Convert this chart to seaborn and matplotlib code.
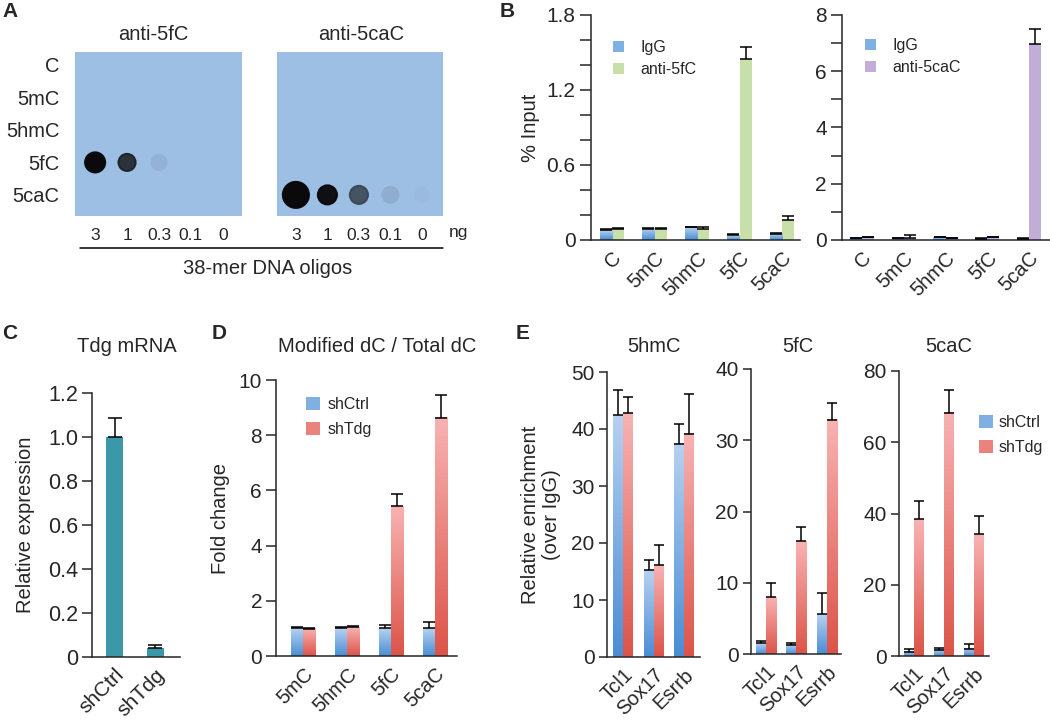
import numpy as np
import pandas as pd
import matplotlib
matplotlib.use("Agg")
import matplotlib.pyplot as plt
import matplotlib.colors as mcolors
from matplotlib.lines import Line2D
from matplotlib.patches import Patch
from matplotlib.ticker import MultipleLocator, FuncFormatter
import seaborn as sns

sns.set_style("ticks")
plt.rcParams["font.family"] = ["Liberation Sans", "DejaVu Sans"]
plt.rcParams["axes.linewidth"] = 1.1

# ---- A: dot blot (signal 0..1 and spot diameter in px, per dose) ----
blot_rows = ["C", "5mC", "5hmC", "5fC", "5caC"]
blot_doses = ["3", "1", "0.3", "0.1", "0"]
fc_blot_row = 3
fc_blot_signal = [1.0, 0.78, 0.07, 0.0, 0.0]
fc_blot_spot = [20, 17, 17, 0, 0]
cac_blot_row = 4
cac_blot_signal = [1.0, 0.97, 0.6, 0.1, 0.03]
cac_blot_spot = [26, 19, 18, 18, 16]

# ---- B: ChIP % input ----
b_sites = ["C", "5mC", "5hmC", "5fC", "5caC"]
igg_fc = [0.08, 0.09, 0.10, 0.04, 0.05]
igg_fc_err = [0.008, 0.004, 0.006, 0.006, 0.006]
anti_fc = [0.09, 0.09, 0.09, 1.45, 0.16]
anti_fc_err = [0.004, 0.004, 0.012, 0.09, 0.03]
igg_cac = [0.07, 0.06, 0.10, 0.05, 0.05]
igg_cac_err = [0.01, 0.01, 0.01, 0.01, 0.01]
anti_cac = [0.09, 0.07, 0.06, 0.09, 6.97]
anti_cac_err = [0.02, 0.11, 0.01, 0.03, 0.52]

# ---- C: Tdg mRNA ----
c_samples = ["shCtrl", "shTdg"]
tdg_expr = [1.0, 0.042]
tdg_expr_err = [0.085, 0.012]

# ---- D: modified dC / total dC ----
d_mods = ["5mC", "5hmC", "5fC", "5caC"]
d_ctrl = [1.0, 1.0, 1.0, 1.0]
d_ctrl_err = [0.05, 0.05, 0.14, 0.22]
d_tdg = [0.98, 1.05, 5.43, 8.64]
d_tdg_err = [0.05, 0.05, 0.43, 0.80]

# ---- E: relative enrichment ----
e_genes = ["Tcl1", "Sox17", "Esrrb"]
e_hmc_ctrl = [42.4, 15.2, 37.4]
e_hmc_ctrl_err = [4.5, 1.8, 3.4]
e_hmc_tdg = [42.8, 16.1, 39.2]
e_hmc_tdg_err = [2.9, 3.5, 6.9]
e_fc_ctrl = [1.5, 1.3, 5.6]
e_fc_ctrl_err = [0.3, 0.2, 2.9]
e_fc_tdg = [8.0, 15.8, 32.9]
e_fc_tdg_err = [1.9, 2.0, 2.3]
e_cac_ctrl = [1.2, 1.7, 2.1]
e_cac_ctrl_err = [0.7, 0.6, 1.4]
e_cac_tdg = [38.4, 68.3, 34.2]
e_cac_tdg_err = [5.1, 6.3, 5.1]

BLUE = ("#b6d1f0", "#4a8dd5")
RED = ("#f8b2b2", "#dc5449")
GREEN = "#c8dfa9"
PURPLE = "#c0aed7"
TEAL = "#3a98a8"
BLOT_BG = np.array([158, 191, 228]) / 255.0

TICK_FS = 15
LABEL_FS = 14.5
LEG_FS = 11.5

W, H = 1050, 722
fig = plt.figure(figsize=(W / 100, H / 100), dpi=100)


def px_axes(x0, y0, x1, y1):
    return fig.add_axes([x0 / W, 1 - y1 / H, (x1 - x0) / W, (y1 - y0) / H])


def fig_text(x, y, s, **kw):
    fig.text(x / W, 1 - y / H, s, **kw)


def gradient_fill(ax, container, colors):
    top, bottom = colors
    cmap = mcolors.LinearSegmentedColormap.from_list("g", [bottom, top])
    grad = np.linspace(0, 1, 64).reshape(-1, 1)
    for bar in container:
        x, y = bar.get_x(), bar.get_y()
        w, h = bar.get_width(), bar.get_height()
        ax.imshow(grad, cmap=cmap, origin="lower", aspect="auto",
                  extent=(x, x + w, y, y + h), zorder=bar.get_zorder() + 0.1)


def add_errors(ax, container, err, capsize):
    xs = [b.get_x() + b.get_width() / 2 for b in container]
    ys = [b.get_height() for b in container]
    ax.errorbar(xs, ys, yerr=[np.zeros(len(err)), err], fmt="none", ecolor="black",
                elinewidth=1.1, capsize=capsize, capthick=1.1, zorder=4)


def style_bar_axes(ax, labels, fs=TICK_FS, tick_len=6):
    sns.despine(ax=ax)
    ax.set_xlabel("")
    ax.set_ylabel("")
    ax.tick_params(axis="y", which="both", direction="out", length=tick_len, width=1.1,
                   labelsize=fs, pad=3)
    ax.tick_params(axis="x", length=0, labelsize=fs - 0.5, pad=6)
    ax.set_xticks(range(len(labels)))
    ax.set_xticklabels(labels, rotation=45, ha="right", rotation_mode="anchor")


def grouped(ax, cats, a, b, names, colors, width, grads, a_err, b_err, capsize):
    df = pd.DataFrame({
        "cat": list(cats) * 2,
        "val": list(a) + list(b),
        "grp": [names[0]] * len(cats) + [names[1]] * len(cats),
    })
    pal = [c if isinstance(c, str) else c[1] for c in colors]
    sns.barplot(data=df, x="cat", y="val", hue="grp", hue_order=list(names), palette=pal,
                width=width, saturation=1, errorbar=None, linewidth=0, legend=False,
                gap=0, ax=ax)
    conts = list(ax.containers)
    for cont, col, g in zip(conts, colors, grads):
        if g:
            gradient_fill(ax, cont, col)
    add_errors(ax, conts[0], a_err, capsize)
    add_errors(ax, conts[1], b_err, capsize)


def legend(ax, names, colors, anchor, spacing, hsize, textpad):
    handles = []
    for c in colors:
        fc = c if isinstance(c, str) else mcolors.to_hex(
            (np.array(mcolors.to_rgb(c[0])) + np.array(mcolors.to_rgb(c[1]))) / 2)
        handles.append(Patch(facecolor=fc, edgecolor="none"))
    ax.legend(handles, names, loc="upper left", bbox_to_anchor=(anchor[0] / W, 1 - anchor[1] / H),
              bbox_transform=fig.transFigure, frameon=False, fontsize=LEG_FS,
              handlelength=hsize, handleheight=hsize, handletextpad=textpad,
              labelspacing=spacing, borderpad=0, borderaxespad=0)


def zero_fmt(dec):
    return FuncFormatter(lambda v, p: "0" if abs(v) < 1e-9 else f"{v:.{dec}f}")


# ---------------- Panel A ----------------
blots = [
    (75, 242, fc_blot_row, fc_blot_signal, fc_blot_spot, "anti-5fC", 153, (-0.63, 4.6)),
    (277, 443, cac_blot_row, cac_blot_signal, cac_blot_spot, "anti-5caC", 361, (-0.6, 4.67)),
]
for i, (x0, x1, row, sig, spot, title, tx, xl) in enumerate(blots):
    ax = px_axes(x0, 52, x1, 216)
    ax.set_facecolor(BLOT_BG)
    for s in ax.spines.values():
        s.set_visible(False)
    sig = np.array(sig)
    dark = np.array([0.04, 0.04, 0.05])
    cols = [tuple(BLOT_BG * (1 - v) + dark * v) for v in sig]
    edge = [tuple(BLOT_BG * (1 - min(1, v * 1.1)) + dark * min(1, v * 1.1)) for v in sig]
    lws = [1.5 if v > 0.3 else 0 for v in sig]
    sizes = [(d * 0.72) ** 2 for d in spot]
    ax.scatter(range(len(blot_doses)), [row] * len(blot_doses), s=sizes, c=cols,
               edgecolors=edge, linewidths=lws, zorder=3)
    ax.set_xlim(*xl)
    ax.set_ylim(4.65, -0.4)
    ax.set_xticks(range(len(blot_doses)))
    ax.set_xticklabels(blot_doses)
    ax.tick_params(axis="x", length=0, labelsize=12.5, pad=9)
    if i == 0:
        ax.set_yticks(range(len(blot_rows)))
        ax.set_yticklabels(blot_rows)
        ax.tick_params(axis="y", length=0, labelsize=LABEL_FS, pad=11)
    else:
        ax.set_yticks([])
    fig_text(tx, 35, title, ha="center", va="center", fontsize=LABEL_FS)

fig_text(449, 233, "ng", ha="left", va="center", fontsize=12.5)
fig.add_artist(Line2D([80 / W, 443 / W], [1 - 248 / H] * 2, color="black", lw=1.1))
fig_text(268, 268, "38-mer DNA oligos", ha="center", va="center", fontsize=LABEL_FS)

# ---------------- Panel B ----------------
ax = px_axes(591, 15, 800, 240)
grouped(ax, b_sites, igg_fc, anti_fc, ("IgG", "anti-5fC"), (BLUE, GREEN), 0.58,
        (True, False), igg_fc_err, anti_fc_err, 4.5)
style_bar_axes(ax, b_sites, tick_len=8)
ax.set_xlim(-0.49, 4.42)
ax.set_ylim(0, 1.8)
ax.yaxis.set_major_locator(MultipleLocator(0.6))
ax.yaxis.set_minor_locator(MultipleLocator(0.2))
ax.yaxis.set_major_formatter(zero_fmt(1))
ax.set_ylabel("% Input", fontsize=LABEL_FS, labelpad=5)
legend(ax, ["IgG", "anti-5fC"], [BLUE, GREEN], (613, 40), 0.45, 0.7, 1.0)

ax = px_axes(842, 15, 1050, 240)
grouped(ax, b_sites, igg_cac, anti_cac, ("IgG", "anti-5caC"), (BLUE, PURPLE), 0.58,
        (True, False), igg_cac_err, anti_cac_err, 4.5)
style_bar_axes(ax, b_sites, tick_len=8)
ax.set_xlim(-0.48, 4.5)
ax.set_ylim(0, 8)
ax.yaxis.set_major_locator(MultipleLocator(2))
ax.yaxis.set_minor_locator(MultipleLocator(1))
legend(ax, ["IgG", "anti-5caC"], [BLUE, PURPLE], (865, 38), 0.45, 0.7, 1.0)

# ---------------- Panel C ----------------
ax = px_axes(92, 393, 180, 657)
sns.barplot(x=c_samples, y=tdg_expr, color=TEAL, width=0.41, saturation=1,
            errorbar=None, linewidth=0, ax=ax)
add_errors(ax, ax.containers[0], tdg_expr_err, 5)
style_bar_axes(ax, c_samples, fs=15.5, tick_len=7)
ax.set_xlim(-0.55, 1.6)
ax.set_ylim(0, 1.2)
ax.yaxis.set_major_locator(MultipleLocator(0.2))
ax.yaxis.set_major_formatter(zero_fmt(1))
ax.set_ylabel("Relative expression", fontsize=LABEL_FS, labelpad=9)
fig_text(127, 346, "Tdg mRNA", ha="center", va="center", fontsize=LABEL_FS)

# ---------------- Panel D ----------------
ax = px_axes(276, 380, 457, 656)
grouped(ax, d_mods, d_ctrl, d_tdg, ("shCtrl", "shTdg"), (BLUE, RED), 0.56,
        (True, True), d_ctrl_err, d_tdg_err, 4.3)
style_bar_axes(ax, d_mods, tick_len=7)
ax.set_xlim(-0.62, 3.5)
ax.set_ylim(0, 10)
ax.yaxis.set_major_locator(MultipleLocator(2))
ax.set_ylabel("Fold change", fontsize=LABEL_FS, labelpad=6)
legend(ax, ["shCtrl", "shTdg"], [BLUE, RED], (306, 397), 0.65, 0.85, 0.5)
fig_text(377, 346, "Modified dC / Total dC", ha="center", va="center", fontsize=LABEL_FS)

# ---------------- Panel E ----------------
e_panels = [
    ((607, 372, 700, 657), "5hmC", 654, e_hmc_ctrl, e_hmc_ctrl_err, e_hmc_tdg, e_hmc_tdg_err, 50, 10, (-0.54, 2.53)),
    ((751, 369, 841, 654), "5fC", 798, e_fc_ctrl, e_fc_ctrl_err, e_fc_tdg, e_fc_tdg_err, 40, 10, (-0.49, 2.46)),
    ((899, 371, 989, 656), "5caC", 949, e_cac_ctrl, e_cac_ctrl_err, e_cac_tdg, e_cac_tdg_err, 80, 20, (-0.5, 2.5)),
]
for i, (box, title, tx, c, ce, t, te, ymax, step, xl) in enumerate(e_panels):
    ax = px_axes(*box)
    grouped(ax, e_genes, c, t, ("shCtrl", "shTdg"), (BLUE, RED), 0.66,
            (True, True), ce, te, 3.6)
    style_bar_axes(ax, e_genes, tick_len=6)
    ax.set_xlim(*xl)
    ax.set_ylim(0, ymax)
    ax.yaxis.set_major_locator(MultipleLocator(step))
    if i == 0:
        ax.set_ylabel("Relative enrichment\n(over IgG)", fontsize=LABEL_FS, labelpad=7,
                      linespacing=1.15)
    if i == 2:
        legend(ax, ["shCtrl", "shTdg"], [BLUE, RED], (979, 415), 0.65, 0.85, 0.35)
    fig_text(tx, 346, title, ha="center", va="center", fontsize=LABEL_FS)

# panel letters
for letter, x, y in [("A", 2, 2), ("B", 500, 2), ("C", 2, 324), ("D", 212, 324), ("E", 516, 324)]:
    fig_text(x, y, letter, ha="left", va="top", fontsize=15, fontweight="bold")

fig.savefig("out.png", dpi=100)
